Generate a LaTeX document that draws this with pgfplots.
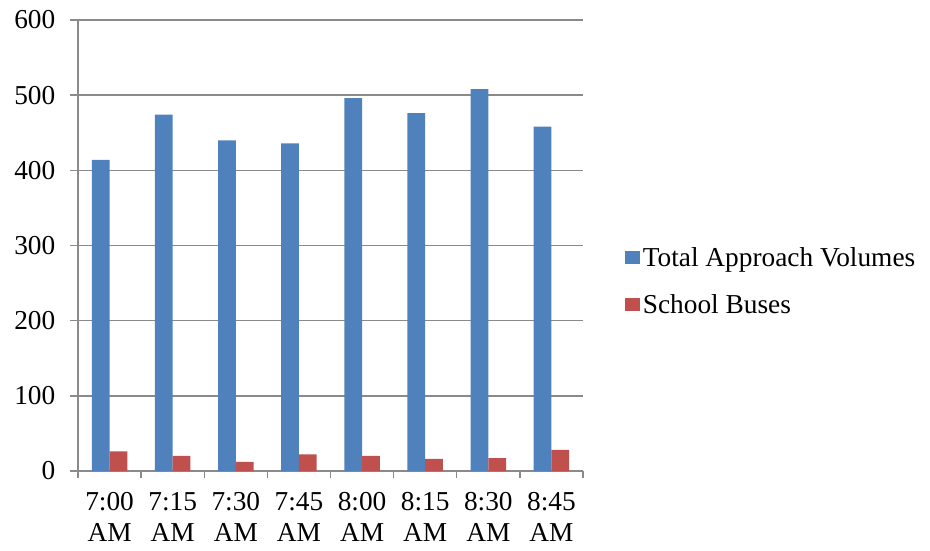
\documentclass[border=0pt]{standalone}
\usepackage{pgfplots}
\pgfplotsset{compat=1.18}
\usepackage{fontspec}
\setmainfont{Liberation Serif}

\definecolor{volblue}{HTML}{4F81BD}
\definecolor{busred}{HTML}{C0504D}
\definecolor{gridgray}{HTML}{8A8A8A}

\begin{document}
\begin{tikzpicture}
% fixed page frame around the axis box
\useasboundingbox (-58.5pt,-59.25pt) rectangle (639pt,353.25pt);
\begin{axis}[
  at={(0pt,0pt)}, anchor=south west,
  scale only axis,
  width=378.75pt, height=338.25pt,
  ybar=0pt, bar width=13.3pt,
  xmin=0.5, xmax=8.5,
  ymin=0, ymax=600,
  ytick={0,100,...,600},
  xtick={1,...,8},
  xticklabels={7:00\\AM,7:15\\AM,7:30\\AM,7:45\\AM,8:00\\AM,8:15\\AM,8:30\\AM,8:45\\AM},
  minor xtick={0.5,1.5,...,8.5},
  axis x line*=bottom, axis y line*=left,
  axis line style={draw=gridgray, line width=1.1pt, -},
  ymajorgrids,
  grid style={draw=gridgray, line width=1.1pt},
  tick align=outside,
  major tick length=6pt, minor tick length=5pt,
  major x tick style={draw=none},
  minor x tick style={draw=gridgray, line width=1.1pt},
  ytick style={draw=gridgray, line width=1.1pt},
  /pgf/number format/assume math mode=true,
  tick label style={font=\fontsize{20.5}{24}\selectfont},
  xticklabel style={align=center, inner sep=0pt, yshift=-10pt,
    font=\fontsize{20.5}{23}\selectfont},
  yticklabel style={xshift=-7.5pt},
  legend style={
    at={(1.083,0.421)}, anchor=west,
    draw=none, fill=none, inner sep=0pt,
    font=\fontsize{20.5}{24}\selectfont,
    row sep=15.5pt,
    /tikz/every even column/.append style={column sep=4pt},
  },
  legend cell align=left,
  legend image code/.code={\fill[#1] (0pt,-4.9pt) rectangle (11.25pt,4.9pt);},
]
\addplot[fill=volblue, draw=none] coordinates {
  (1,414) (2,474) (3,440) (4,436) (5,496) (6,476) (7,508) (8,458)
};
\addplot[fill=busred, draw=none] coordinates {
  (1,26) (2,20) (3,12) (4,22) (5,20) (6,16) (7,17) (8,28)
};
\legend{Total Approach Volumes, School Buses}
\end{axis}
\end{tikzpicture}
\end{document}
